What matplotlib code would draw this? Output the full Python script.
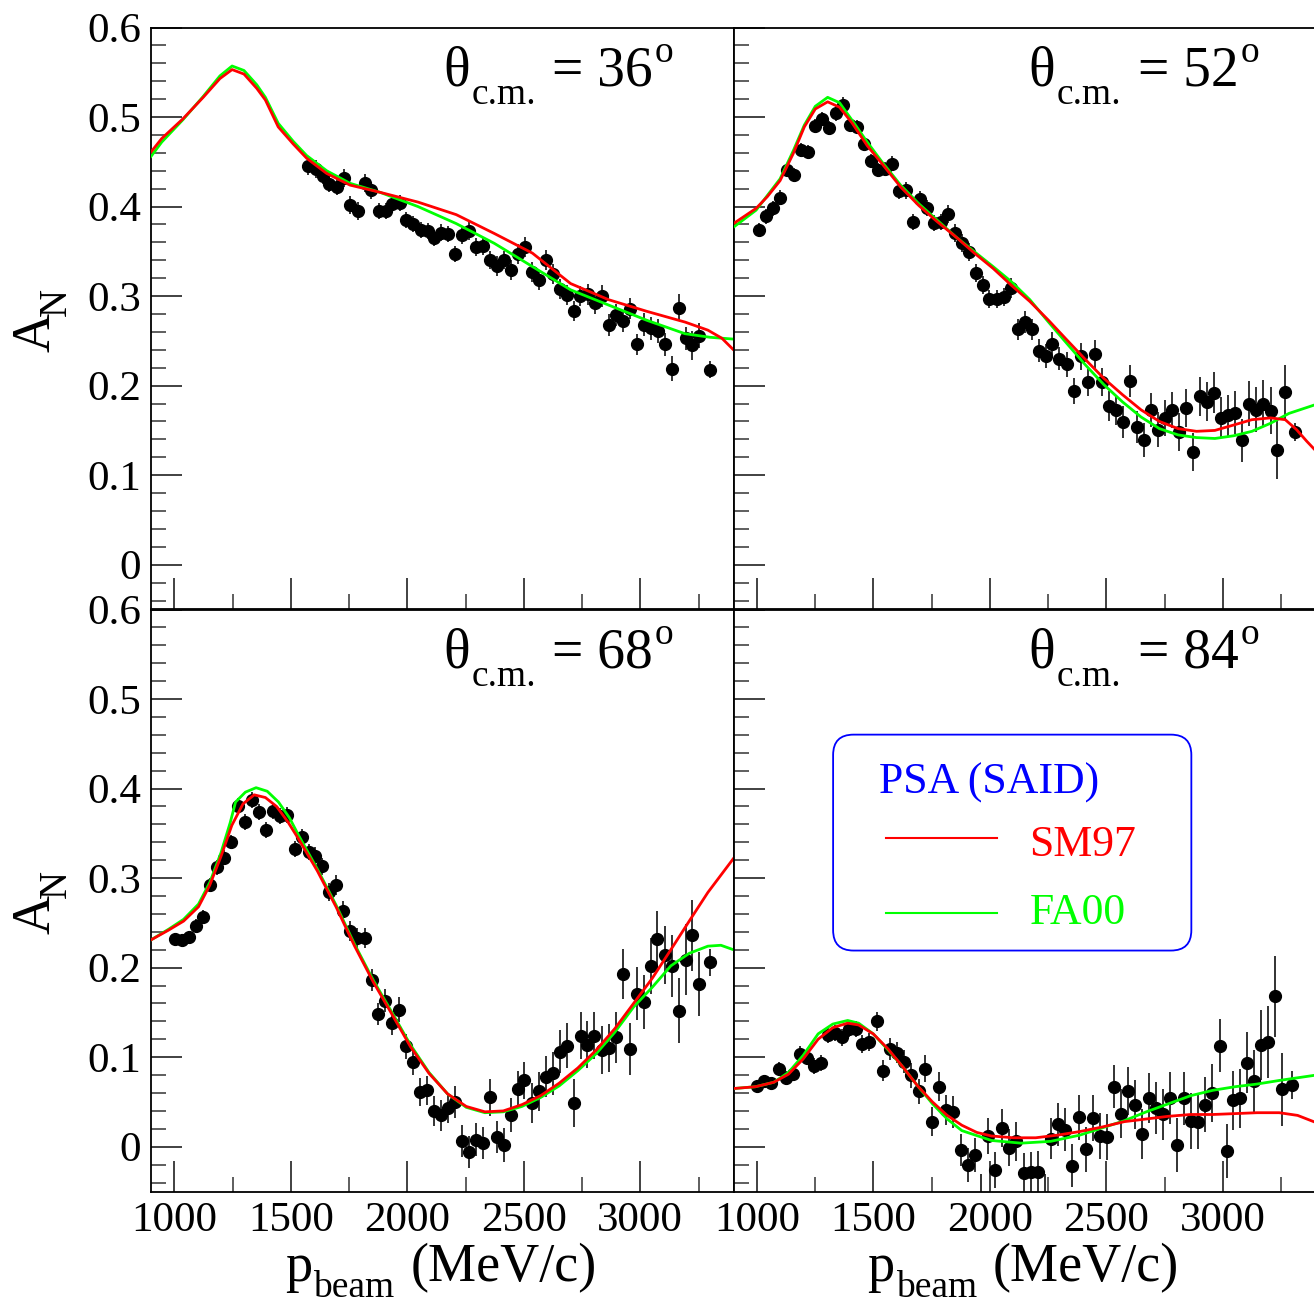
import matplotlib
matplotlib.use('Agg')
import matplotlib.pyplot as plt
from matplotlib.patches import FancyBboxPatch
from matplotlib.ticker import MultipleLocator
from matplotlib.lines import Line2D
from matplotlib.transforms import IdentityTransform

plt.rcParams['font.family'] = ['Liberation Serif', 'DejaVu Serif']

# ---------------- data: theta = 36 deg ----------------
p36 = [1574, 1607, 1640, 1666, 1697, 1727, 1755, 1787, 1817, 1846,
       1877, 1907, 1936, 1967, 1995, 2026, 2057, 2088, 2115, 2144,
       2175, 2205, 2236, 2265, 2295, 2326, 2355, 2385, 2414, 2444,
       2473, 2504, 2534, 2565, 2596, 2625, 2655, 2686, 2714, 2743,
       2776, 2805, 2837, 2866, 2896, 2925, 2956, 2984, 3015, 3044,
       3076, 3105, 3135, 3166, 3195, 3223, 3254, 3300]
a36 = [0.445, 0.442, 0.434, 0.425, 0.422, 0.432, 0.402, 0.395, 0.426, 0.418,
       0.395, 0.395, 0.403, 0.404, 0.385, 0.381, 0.374, 0.373, 0.365, 0.371,
       0.369, 0.347, 0.368, 0.373, 0.355, 0.356, 0.340, 0.334, 0.340, 0.329,
       0.347, 0.355, 0.327, 0.318, 0.340, 0.325, 0.308, 0.301, 0.283, 0.300,
       0.302, 0.292, 0.300, 0.268, 0.279, 0.272, 0.286, 0.246, 0.268, 0.264,
       0.261, 0.246, 0.219, 0.287, 0.253, 0.245, 0.256, 0.218]
e36 = [0.010, 0.010, 0.009, 0.009, 0.009, 0.010, 0.010, 0.010, 0.010, 0.009,
       0.009, 0.009, 0.009, 0.009, 0.009, 0.009, 0.009, 0.009, 0.009, 0.009,
       0.009, 0.009, 0.010, 0.010, 0.010, 0.010, 0.010, 0.011, 0.010, 0.011,
       0.011, 0.011, 0.011, 0.011, 0.011, 0.011, 0.011, 0.011, 0.011, 0.011,
       0.012, 0.012, 0.012, 0.012, 0.012, 0.012, 0.012, 0.012, 0.013, 0.013,
       0.013, 0.013, 0.014, 0.015, 0.013, 0.016, 0.014, 0.010]
sm_p36 = [900, 946, 1037, 1124, 1196, 1248, 1299, 1354, 1391, 1446, 1510, 1568,
          1654, 1754, 1882, 2046, 2210, 2373, 2537, 2701, 2864, 3028, 3192, 3290, 3350, 3400]
sm_a36 = [0.461, 0.476, 0.498, 0.522, 0.543, 0.553, 0.548, 0.532, 0.519, 0.489, 0.470, 0.454,
          0.437, 0.424, 0.416, 0.405, 0.391, 0.370, 0.348, 0.314, 0.296, 0.283, 0.271, 0.262, 0.253, 0.240]
fa_p36 = [900, 946, 1037, 1124, 1196, 1248, 1299, 1354, 1391, 1446, 1510, 1568,
          1654, 1754, 1882, 2046, 2210, 2373, 2537, 2701, 2864, 3028, 3192, 3300, 3400]
fa_a36 = [0.456, 0.472, 0.497, 0.523, 0.546, 0.557, 0.552, 0.536, 0.522, 0.493, 0.473, 0.457,
          0.440, 0.426, 0.416, 0.400, 0.381, 0.359, 0.333, 0.307, 0.290, 0.273, 0.258, 0.254, 0.252]

# ---------------- data: theta = 52 deg ----------------
p52 = [1008, 1039, 1069, 1099, 1129, 1159, 1189, 1218, 1248, 1278,
       1309, 1339, 1370, 1399, 1431, 1458, 1490, 1520, 1550, 1579,
       1610, 1640, 1671, 1701, 1729, 1760, 1791, 1820, 1852, 1882,
       1910, 1942, 1971, 1998, 2029, 2061, 2090, 2120, 2152, 2180,
       2212, 2241, 2269, 2299, 2331, 2361, 2392, 2422, 2453, 2482,
       2511, 2541, 2571, 2601, 2631, 2662, 2692, 2722, 2752, 2782,
       2812, 2841, 2871, 2903, 2933, 2963, 2993, 3024, 3054, 3084,
       3114, 3143, 3173, 3205, 3233, 3265, 3309]
a52 = [0.374, 0.389, 0.398, 0.410, 0.441, 0.435, 0.463, 0.461, 0.490, 0.498,
       0.488, 0.504, 0.514, 0.491, 0.489, 0.470, 0.451, 0.441, 0.442, 0.448,
       0.417, 0.418, 0.383, 0.408, 0.398, 0.382, 0.383, 0.392, 0.370, 0.359,
       0.349, 0.326, 0.312, 0.297, 0.297, 0.299, 0.309, 0.263, 0.271, 0.263,
       0.239, 0.233, 0.247, 0.230, 0.224, 0.194, 0.233, 0.204, 0.235, 0.204,
       0.177, 0.173, 0.159, 0.205, 0.154, 0.139, 0.173, 0.151, 0.164, 0.173,
       0.148, 0.175, 0.126, 0.188, 0.182, 0.192, 0.164, 0.167, 0.170, 0.139,
       0.180, 0.173, 0.180, 0.172, 0.128, 0.193, 0.148]
e52 = [0.008, 0.008, 0.008, 0.008, 0.008, 0.008, 0.008, 0.008, 0.008, 0.008,
       0.008, 0.008, 0.008, 0.008, 0.008, 0.008, 0.008, 0.008, 0.008, 0.008,
       0.009, 0.009, 0.009, 0.009, 0.009, 0.009, 0.009, 0.010, 0.010, 0.010,
       0.010, 0.010, 0.010, 0.010, 0.010, 0.010, 0.011, 0.012, 0.012, 0.012,
       0.013, 0.013, 0.013, 0.013, 0.014, 0.014, 0.015, 0.015, 0.016, 0.016,
       0.017, 0.017, 0.018, 0.018, 0.018, 0.019, 0.019, 0.020, 0.020, 0.020,
       0.021, 0.021, 0.021, 0.022, 0.022, 0.023, 0.023, 0.023, 0.024, 0.024,
       0.025, 0.025, 0.026, 0.026, 0.032, 0.030, 0.010]
sm_p52 = [900, 997, 1045, 1100, 1156, 1204, 1251, 1304, 1355, 1410, 1474, 1537, 1617,
          1696, 1775, 1855, 1934, 2014, 2093, 2172, 2252, 2331, 2411, 2490, 2569,
          2649, 2728, 2808, 2887, 2966, 3046, 3125, 3205, 3268, 3316, 3360, 3400]
sm_a52 = [0.381, 0.398, 0.411, 0.429, 0.459, 0.489, 0.509, 0.517, 0.511, 0.493, 0.468, 0.448, 0.422,
          0.401, 0.383, 0.366, 0.348, 0.331, 0.312, 0.294, 0.273, 0.251, 0.229, 0.208, 0.190,
          0.173, 0.160, 0.152, 0.149, 0.150, 0.156, 0.162, 0.164, 0.162, 0.151, 0.138, 0.127]
fa_p52 = [900, 997, 1100, 1156, 1204, 1251, 1304, 1355, 1410, 1474, 1537, 1617,
          1696, 1855, 2014, 2093, 2172, 2252, 2331, 2411, 2490, 2569,
          2649, 2728, 2808, 2887, 2966, 3046, 3125, 3205, 3284, 3400]
fa_a52 = [0.377, 0.396, 0.431, 0.462, 0.491, 0.512, 0.522, 0.516, 0.496, 0.472, 0.450, 0.424,
          0.403, 0.366, 0.333, 0.316, 0.296, 0.271, 0.247, 0.223, 0.201, 0.182,
          0.165, 0.152, 0.145, 0.142, 0.141, 0.144, 0.149, 0.158, 0.169, 0.179]

# ---------------- data: theta = 68 deg ----------------
p68 = [1003, 1034, 1064, 1094, 1124, 1153, 1184, 1214, 1244, 1273,
       1305, 1335, 1364, 1394, 1423, 1452, 1485, 1516, 1547, 1578,
       1606, 1635, 1664, 1693, 1723, 1753, 1785, 1817, 1847, 1875,
       1905, 1934, 1964, 1994, 2023, 2053, 2085, 2114, 2146, 2175,
       2205, 2234, 2264, 2294, 2326, 2355, 2385, 2416, 2443, 2473,
       2503, 2535, 2566, 2596, 2626, 2655, 2685, 2714, 2744, 2773,
       2803, 2834, 2866, 2896, 2926, 2955, 2984, 3014, 3044, 3073,
       3104, 3134, 3164, 3195, 3223, 3254, 3300]
a68 = [0.232, 0.231, 0.234, 0.247, 0.257, 0.292, 0.312, 0.323, 0.340, 0.381,
       0.363, 0.387, 0.374, 0.354, 0.375, 0.369, 0.370, 0.333, 0.346, 0.329,
       0.325, 0.313, 0.284, 0.292, 0.263, 0.241, 0.233, 0.233, 0.186, 0.148,
       0.163, 0.138, 0.153, 0.112, 0.095, 0.061, 0.063, 0.040, 0.035, 0.043,
       0.050, 0.006, -0.006, 0.008, 0.004, 0.055, 0.011, 0.002, 0.035, 0.065,
       0.074, 0.049, 0.062, 0.078, 0.082, 0.106, 0.113, 0.049, 0.124, 0.114,
       0.124, 0.108, 0.110, 0.122, 0.193, 0.109, 0.171, 0.162, 0.202, 0.232,
       0.214, 0.202, 0.152, 0.209, 0.236, 0.182, 0.206]
e68 = [0.006, 0.007, 0.006, 0.007, 0.007, 0.008, 0.008, 0.008, 0.008, 0.009,
       0.009, 0.009, 0.009, 0.009, 0.009, 0.009, 0.009, 0.009, 0.009, 0.009,
       0.010, 0.010, 0.010, 0.011, 0.011, 0.011, 0.011, 0.011, 0.012, 0.012,
       0.013, 0.013, 0.014, 0.014, 0.015, 0.016, 0.016, 0.017, 0.017, 0.017,
       0.018, 0.018, 0.018, 0.018, 0.018, 0.021, 0.018, 0.019, 0.019, 0.020,
       0.021, 0.022, 0.022, 0.023, 0.024, 0.024, 0.025, 0.027, 0.026, 0.026,
       0.026, 0.027, 0.027, 0.028, 0.028, 0.029, 0.030, 0.030, 0.031, 0.031,
       0.032, 0.035, 0.036, 0.040, 0.040, 0.036, 0.015]
sm_p68 = [900, 976, 1040, 1104, 1152, 1200, 1247, 1295, 1343, 1391, 1439, 1487, 1535,
          1614, 1694, 1774, 1854, 1934, 2013, 2093, 2173, 2253, 2333, 2412, 2492,
          2572, 2652, 2732, 2811, 2891, 2971, 3051, 3131, 3210, 3290, 3400]
sm_a68 = [0.231, 0.242, 0.252, 0.268, 0.292, 0.324, 0.359, 0.383, 0.393, 0.390, 0.380, 0.363, 0.343,
          0.308, 0.268, 0.224, 0.184, 0.148, 0.112, 0.082, 0.059, 0.045, 0.039, 0.040, 0.047,
          0.057, 0.071, 0.088, 0.108, 0.132, 0.160, 0.188, 0.220, 0.252, 0.284, 0.322]
fa_p68 = [900, 976, 1040, 1104, 1152, 1200, 1240, 1263, 1305, 1351, 1399, 1447, 1495, 1535,
          1614, 1694, 1774, 1854, 1934, 2013, 2093, 2173, 2253, 2333, 2412, 2492,
          2572, 2652, 2732, 2811, 2891, 2971, 3051, 3131, 3210, 3290, 3346, 3400]
fa_a68 = [0.231, 0.243, 0.254, 0.271, 0.295, 0.328, 0.362, 0.385, 0.396, 0.401, 0.397, 0.385, 0.367, 0.347,
          0.310, 0.270, 0.226, 0.186, 0.150, 0.114, 0.083, 0.059, 0.044, 0.038, 0.039, 0.045,
          0.055, 0.068, 0.085, 0.104, 0.128, 0.156, 0.178, 0.202, 0.216, 0.224, 0.225, 0.220]

# ---------------- data: theta = 84 deg ----------------
p84 = [1003, 1033, 1063, 1095, 1125, 1155, 1184, 1215, 1244, 1276,
       1306, 1334, 1364, 1394, 1424, 1453, 1483, 1515, 1543, 1573,
       1602, 1633, 1663, 1695, 1722, 1754, 1784, 1814, 1844, 1876,
       1906, 1936, 1963, 1993, 2023, 2053, 2083, 2113, 2145, 2175,
       2205, 2237, 2264, 2292, 2324, 2354, 2384, 2414, 2444, 2474,
       2503, 2534, 2563, 2593, 2625, 2655, 2685, 2715, 2743, 2774,
       2804, 2834, 2862, 2894, 2924, 2954, 2986, 3016, 3043, 3074,
       3103, 3133, 3163, 3195, 3223, 3255, 3299]
a84 = [0.068, 0.073, 0.071, 0.087, 0.077, 0.081, 0.104, 0.099, 0.090, 0.094,
       0.125, 0.127, 0.122, 0.132, 0.131, 0.115, 0.117, 0.140, 0.085, 0.109,
       0.105, 0.095, 0.080, 0.062, 0.087, 0.028, 0.067, 0.041, 0.039, -0.004,
       -0.020, -0.009, -0.065, 0.012, -0.026, 0.021, -0.001, 0.006, -0.029, -0.028,
       -0.028, -0.065, 0.009, 0.025, 0.019, -0.021, 0.033, -0.003, 0.032, 0.012,
       0.011, 0.067, 0.037, 0.062, 0.047, 0.014, 0.054, 0.043, 0.036, 0.054,
       0.002, 0.054, 0.029, 0.028, 0.047, 0.060, 0.113, -0.005, 0.052, 0.054,
       0.094, 0.073, 0.114, 0.117, 0.168, 0.064, 0.069]
e84 = [0.007, 0.007, 0.007, 0.008, 0.008, 0.008, 0.008, 0.008, 0.009, 0.009,
       0.009, 0.009, 0.009, 0.009, 0.009, 0.010, 0.010, 0.011, 0.012, 0.012,
       0.012, 0.013, 0.014, 0.014, 0.015, 0.016, 0.016, 0.017, 0.018, 0.018,
       0.019, 0.019, 0.035, 0.020, 0.020, 0.021, 0.021, 0.022, 0.022, 0.022,
       0.023, 0.035, 0.023, 0.024, 0.024, 0.024, 0.025, 0.025, 0.026, 0.026,
       0.026, 0.024, 0.027, 0.027, 0.027, 0.028, 0.028, 0.029, 0.029, 0.029,
       0.030, 0.030, 0.031, 0.031, 0.031, 0.032, 0.030, 0.030, 0.033, 0.033,
       0.034, 0.035, 0.039, 0.040, 0.045, 0.041, 0.016]
sm_p84 = [900, 994, 1073, 1136, 1199, 1263, 1326, 1390, 1437, 1500, 1564, 1627, 1690,
          1754, 1817, 1880, 1944, 2007, 2102, 2197, 2292, 2387, 2482, 2577, 2672,
          2767, 2862, 2957, 3052, 3147, 3242, 3321, 3400]
sm_a84 = [0.065, 0.067, 0.072, 0.081, 0.098, 0.120, 0.133, 0.138, 0.136, 0.126, 0.109, 0.089, 0.068,
          0.050, 0.035, 0.024, 0.016, 0.012, 0.010, 0.010, 0.013, 0.017, 0.022, 0.028, 0.031,
          0.034, 0.036, 0.036, 0.037, 0.038, 0.038, 0.035, 0.027]
fa_p84 = [900, 994, 1073, 1136, 1199, 1263, 1326, 1390, 1437, 1500, 1564, 1627, 1690,
          1754, 1817, 1880, 2007, 2134, 2261, 2387, 2482, 2577, 2672, 2767, 2862,
          2957, 3052, 3147, 3242, 3400]
fa_a84 = [0.065, 0.067, 0.072, 0.083, 0.102, 0.126, 0.137, 0.141, 0.138, 0.126, 0.108, 0.089, 0.068,
          0.048, 0.031, 0.018, 0.007, 0.004, 0.006, 0.013, 0.021, 0.029, 0.039, 0.048, 0.057,
          0.063, 0.067, 0.070, 0.074, 0.080]

angles = ['36', '52', '68', '84']
x_ticks = [1000, 1500, 2000, 2500, 3000]
y_ticks = [0, 0.1, 0.2, 0.3, 0.4, 0.5, 0.6]
legend_title = 'PSA (SAID)'
legend_labels = ['SM97', 'FA00']

panels = [
    (p36, a36, e36, sm_p36, sm_a36, fa_p36, fa_a36),
    (p52, a52, e52, sm_p52, sm_a52, fa_p52, fa_a52),
    (p68, a68, e68, sm_p68, sm_a68, fa_p68, fa_a68),
    (p84, a84, e84, sm_p84, sm_a84, fa_p84, fa_a84),
]

W, H = 1314, 1308
fig = plt.figure(figsize=(W / 100, H / 100), dpi=100)
renderer = fig.canvas.get_renderer()

axw = 582.5 / W
axh = 582 / H
left_px = [151, 733.5]
top_px = [27.5, 609.5]
lefts = [v / W for v in left_px]
bottoms = [1 - 609.5 / H, 1 - 1191.5 / H]

RED = '#ff0000'
GREEN = '#00ff00'
BLUE = '#0000ff'


def row_text(x, base_y, pieces):
    """Horizontal text built from pieces (text, size, drop_px, gap_px); pixel coords from top-left."""
    cur = x
    for s, size, drop, gap in pieces:
        cur += gap
        t = fig.text(cur, H - (base_y + drop), s, fontsize=size, ha='left', va='baseline',
                     transform=IdentityTransform())
        cur = t.get_window_extent(renderer=renderer).x1


def col_text(base_x, start_y, pieces):
    """Vertical (rotated 90) text built from pieces (text, size, drop_px, gap_px)."""
    cur = H - start_y
    for s, size, drop, gap in pieces:
        cur += gap
        t = fig.text(base_x + drop, cur, s, fontsize=size, rotation=90, rotation_mode='anchor',
                     ha='left', va='baseline', transform=IdentityTransform())
        cur = t.get_window_extent(renderer=renderer).y1


axes = []
for i in range(4):
    row, col = divmod(i, 2)
    ax = fig.add_axes([lefts[col], bottoms[row], axw, axh])
    axes.append(ax)
    p, a, e, sp, sa, fp, fa = panels[i]
    ax.errorbar(p, a, yerr=e, fmt='o', color='black', ms=8.5, ecolor='#222222',
                elinewidth=1.3, capsize=0, zorder=2)
    ax.plot(fp, fa, color=GREEN, lw=2.0, zorder=3)
    ax.plot(sp, sa, color=RED, lw=2.0, zorder=4)
    ax.set_xlim(900, 3400)
    ax.set_ylim(-0.05, 0.6)
    ax.set_xticks(x_ticks)
    ax.xaxis.set_minor_locator(MultipleLocator(250))
    ax.set_yticks(y_ticks)
    ax.yaxis.set_minor_locator(MultipleLocator(0.02))
    ax.tick_params(which='both', direction='in', top=False, right=False, color='#333333')
    ax.tick_params(which='major', length=22, width=1.3, labelsize=31, pad=7)
    ax.tick_params(which='minor', length=11, width=1.1)
    for s in ax.spines.values():
        s.set_linewidth(1.3)
    ax.set_yticklabels(['0', '0.1', '0.2', '0.3', '0.4', '0.5', '0.6'])
    ax.set_xticklabels([str(v) for v in x_ticks])
    if row == 0:
        ax.tick_params(labelbottom=False)
    if col == 1:
        ax.tick_params(labelleft=False)

    # panel title: theta_c.m. = XX^o
    tx = left_px[col] + (292 if col == 0 else 295)
    ty = top_px[row] + 58
    row_text(tx, ty, [('θ', 40, 0, 0), ('c.m.', 27, 19, 2),
                      ('= ' + angles[i], 40, 0, 16), ('o', 27, -24, 2)])

# axis labels
for col in range(2):
    row_text(left_px[col] + 134, 1281, [('p', 39, 0, 0), ('beam', 27, 16, 1), ('(MeV/c)', 39, 0, 16)])
for row in range(2):
    col_text(50, top_px[row] + 324, [('A', 39, 0, 0), ('N', 28, 16, -3)])

# legend in the last panel
ax = axes[3]
box = FancyBboxPatch((0.171, 0.414), 0.786 - 0.171, 0.785 - 0.414,
                     boxstyle='round,pad=0,rounding_size=0.035',
                     transform=ax.transAxes, facecolor='white', edgecolor=BLUE,
                     linewidth=1.3, zorder=5)
ax.add_patch(box)
ax.text(0.250, 0.703, legend_title, color=BLUE, fontsize=31.5, transform=ax.transAxes,
        ha='left', va='center', zorder=6)
ax.add_line(Line2D([0.262, 0.453], [0.608, 0.608], color=RED, lw=1.5,
                   transform=ax.transAxes, zorder=6))
ax.text(0.508, 0.595, legend_labels[0], color=RED, fontsize=31.5, transform=ax.transAxes,
        ha='left', va='center', zorder=6)
ax.add_line(Line2D([0.262, 0.453], [0.479, 0.479], color=GREEN, lw=1.5,
                   transform=ax.transAxes, zorder=6))
ax.text(0.508, 0.479, legend_labels[1], color=GREEN, fontsize=31.5, transform=ax.transAxes,
        ha='left', va='center', zorder=6)

fig.savefig('out.png', dpi=100)
